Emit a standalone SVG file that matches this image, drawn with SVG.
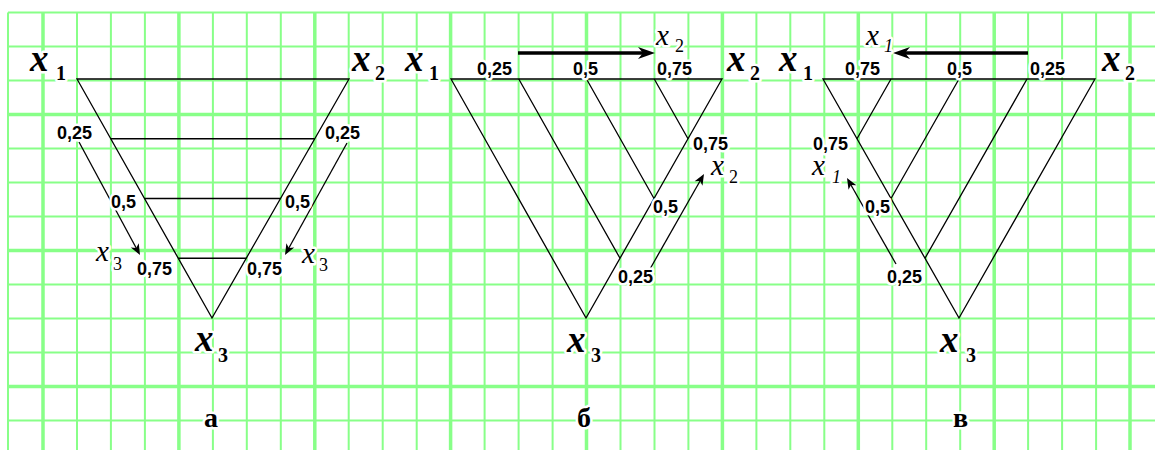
<svg xmlns="http://www.w3.org/2000/svg" width="1155" height="450" viewBox="0 0 1155 450">
<style>
.g{stroke:#88ff88;stroke-width:2;fill:none}
.gt{stroke:#88ff88;stroke-width:3.5;fill:none}
.ln{stroke:#000;stroke-width:1.3;fill:none}
.ar{stroke:#000;stroke-width:1.3;fill:none}
.arb{stroke:#000;stroke-width:3.5;fill:none}
text{paint-order:stroke;stroke:#fff;stroke-width:5;stroke-linejoin:round;fill:#000}
.X{font-family:"Liberation Serif",serif;font-style:italic;font-weight:bold;font-size:37px}
.XS{font-family:"Liberation Serif",serif;font-weight:bold;font-size:20px}
.x{font-family:"Liberation Serif",serif;font-style:italic;font-size:29px}
.xs{font-family:"Liberation Serif",serif;font-size:18px}
.xsi{font-family:"Liberation Serif",serif;font-style:italic;font-size:18px}
.n{font-family:"Liberation Sans",sans-serif;font-weight:bold;font-size:18px}
.cap{font-family:"Liberation Serif",serif;font-weight:bold;font-size:28px}
</style>
<defs>
<marker id="ah" markerUnits="userSpaceOnUse" viewBox="-6 -5 13 10" markerWidth="13" markerHeight="10" refX="0" refY="0" orient="auto">
<path d="M6,0 L-5,-4.5 L-2,0 L-5,4.5 Z" fill="#000"/>
</marker>
<marker id="ahb" markerUnits="userSpaceOnUse" viewBox="-10 -7 19 14" markerWidth="19" markerHeight="14" refX="0" refY="0" orient="auto">
<path d="M8,0 L-9,-6 L-4,0 L-9,6 Z" fill="#000"/>
</marker>
</defs>
<rect width="1155" height="450" fill="#fff"/>
<g id="grid">
<path class="g" d="M8 12.5V450M77 12.5V450M110.9 12.5V450M144.9 12.5V450M212.9 12.5V450M246.8 12.5V450M280.8 12.5V450M348.7 12.5V450M382.7 12.5V450M416.7 12.5V450M484.6 12.5V450M518.6 12.5V450M552.6 12.5V450M620.5 12.5V450M654.5 12.5V450M688.4 12.5V450M756.4 12.5V450M790.3 12.5V450M824.3 12.5V450M892.3 12.5V450M926.2 12.5V450M960.2 12.5V450M1028.1 12.5V450M1062.1 12.5V450M1096.1 12.5V450M8 12.5H1155M8 46.5H1155M8 80.5H1155M8 148.5H1155M8 182.5H1155M8 216.5H1155M8 284.5H1155M8 318.5H1155M8 352.5H1155M8 420.5H1155"/>
<path class="gt" d="M43 12.5V450M178.9 12.5V450M314.8 12.5V450M450.6 12.5V450M586.5 12.5V450M722.4 12.5V450M858.3 12.5V450M994.2 12.5V450M1130 12.5V450M8 114.5H1155M8 250.5H1155M8 386.5H1155"/>
</g>
<g id="connectors">
<path class="ln" d="M77 79H349L212 318Z"/>
<path class="ln" d="M110.75 138.75H314.75M144.5 198.5H280.5M178.25 258.25H246.25"/>
<line class="ar" x1="79" y1="142" x2="137.15" y2="249.7" marker-end="url(#ah)"/>
<line class="ar" x1="347" y1="143" x2="287.9" y2="249.75" marker-end="url(#ah)"/>
<path class="ln" d="M451 79H722L586 318Z"/>
<path class="ln" d="M518.75 79L620 258.25M586.5 79L654 198.5M654.25 79L688 138.75"/>
<line class="arb" x1="518" y1="53" x2="647" y2="53" marker-end="url(#ahb)"/>
<line class="ar" x1="650" y1="269" x2="701.04" y2="179.2" marker-end="url(#ah)"/>
<path class="ln" d="M823 79H1095L959 318Z"/>
<path class="ln" d="M891 79L857 138.75M959 79L891 198.5M1027 79L925 258.25"/>
<line class="arb" x1="1028" y1="53" x2="901" y2="53" marker-end="url(#ahb)"/>
<line class="ar" x1="896" y1="264" x2="849.97" y2="183.2" marker-end="url(#ah)"/>
</g>
<g id="diagram-a">
<g id="a-x1"><text><tspan class="X" x="30" y="71">x</tspan><tspan class="XS" x="56" y="80">1</tspan></text></g>
<g id="a-x2"><text><tspan class="X" x="352" y="71">x</tspan><tspan class="XS" x="375" y="80">2</tspan></text></g>
<g id="a-x3"><text><tspan class="X" x="195" y="351">x</tspan><tspan class="XS" x="218" y="362">3</tspan></text></g>
<g id="a-l025"><text class="n" x="57" y="139">0,25</text></g>
<g id="a-r025"><text class="n" x="325" y="139">0,25</text></g>
<g id="a-l05"><text class="n" x="111" y="208">0,5</text></g>
<g id="a-r05"><text class="n" x="285" y="208">0,5</text></g>
<g id="a-l075"><text class="n" x="137" y="275">0,75</text></g>
<g id="a-r075"><text class="n" x="247" y="275">0,75</text></g>
<g id="a-lx3"><text><tspan class="x" x="96" y="261">x</tspan><tspan class="xs" x="113" y="270">3</tspan></text></g>
<g id="a-rx3"><text><tspan class="x" x="302" y="263">x</tspan><tspan class="xs" x="319" y="271">3</tspan></text></g>
<g id="a-cap"><text class="cap" x="204" y="427">а</text></g>
</g>
<g id="diagram-b">
<g id="b-x1"><text><tspan class="X" x="405" y="71">x</tspan><tspan class="XS" x="429" y="80">1</tspan></text></g>
<g id="b-x2"><text><tspan class="X" x="727" y="71">x</tspan><tspan class="XS" x="750" y="80">2</tspan></text></g>
<g id="b-x3"><text><tspan class="X" x="567" y="352">x</tspan><tspan class="XS" x="591" y="362">3</tspan></text></g>
<g id="b-t025"><text class="n" x="477" y="75">0,25</text></g>
<g id="b-t05"><text class="n" x="573" y="75">0,5</text></g>
<g id="b-t075"><text class="n" x="657" y="75">0,75</text></g>
<g id="b-r075"><text class="n" x="693" y="150">0,75</text></g>
<g id="b-r05"><text class="n" x="653" y="213">0,5</text></g>
<g id="b-r025"><text class="n" x="618" y="283">0,25</text></g>
<g id="b-tx2"><text><tspan class="x" x="656" y="45">x</tspan><tspan class="xs" x="675" y="52">2</tspan></text></g>
<g id="b-rx2"><text><tspan class="x" x="711" y="175">x</tspan><tspan class="xs" x="729" y="183">2</tspan></text></g>
<g id="b-cap"><text class="cap" x="577" y="427">б</text></g>
</g>
<g id="diagram-c">
<g id="c-x1"><text><tspan class="X" x="779" y="71">x</tspan><tspan class="XS" x="803" y="80">1</tspan></text></g>
<g id="c-x2"><text><tspan class="X" x="1102" y="71">x</tspan><tspan class="XS" x="1125" y="80">2</tspan></text></g>
<g id="c-x3"><text><tspan class="X" x="940" y="352">x</tspan><tspan class="XS" x="966" y="362">3</tspan></text></g>
<g id="c-t075"><text class="n" x="845" y="75">0,75</text></g>
<g id="c-t05"><text class="n" x="947" y="75">0,5</text></g>
<g id="c-t025"><text class="n" x="1030" y="75">0,25</text></g>
<g id="c-l075"><text class="n" x="813" y="150">0,75</text></g>
<g id="c-l05"><text class="n" x="865" y="213">0,5</text></g>
<g id="c-l025"><text class="n" x="887" y="283">0,25</text></g>
<g id="c-tx1"><text><tspan class="x" x="866" y="45">x</tspan><tspan class="xsi" x="884" y="52">1</tspan></text></g>
<g id="c-lx1"><text><tspan class="x" x="812" y="175">x</tspan><tspan class="xsi" x="832" y="183">1</tspan></text></g>
<g id="c-cap"><text class="cap" x="953" y="427">в</text></g>
</g>
</svg>
